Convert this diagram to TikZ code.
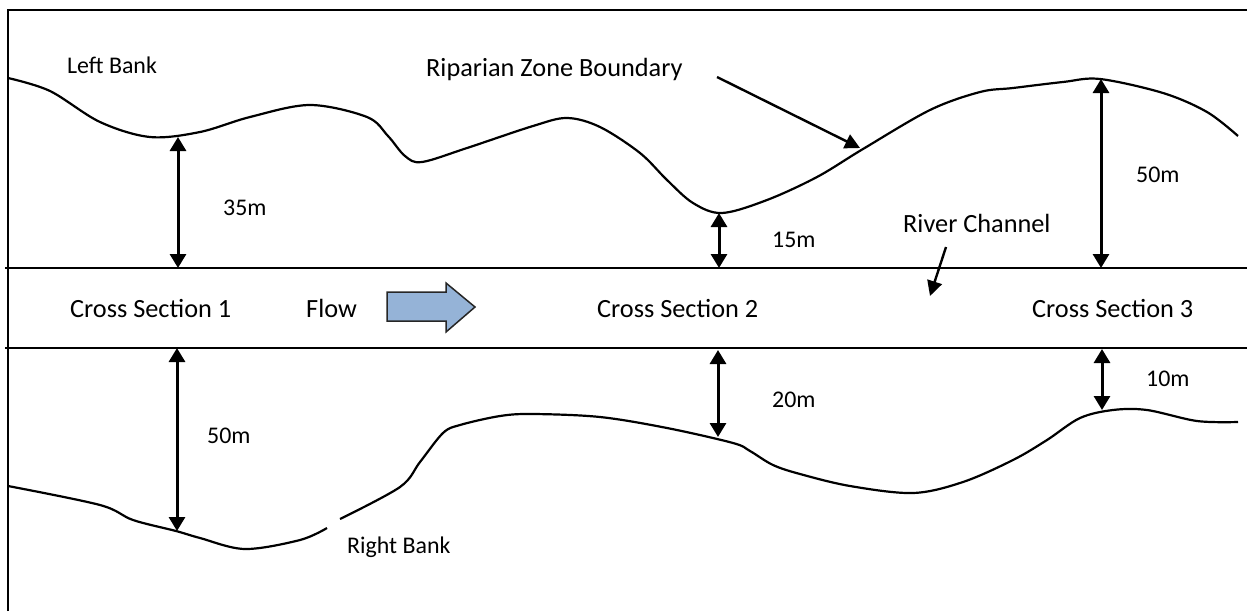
\documentclass[tikz,border=0pt]{standalone}
\usepackage{fontspec}
\setmainfont{Carlito}
\usetikzlibrary{arrows.meta}
\definecolor{flowblue}{HTML}{95B3D7}
\tikzset{
  big/.style={inner sep=0pt, anchor=base west, font=\fontsize{26.3}{30}\selectfont},
  small/.style={inner sep=0pt, anchor=base west, font=\fontsize{23.9}{28}\selectfont},
  curve/.style={line width=2.2pt, line join=round},
  frameline/.style={line width=2.4pt},
  chan/.style={line width=2.2pt},
  dimarrow/.style={line width=3pt, {Triangle[length=14pt,width=16pt]}-{Triangle[length=14pt,width=16pt]}},
  ptr/.style={line width=2.4pt, -{Triangle[length=15pt,width=15pt]}},
}
\begin{document}
\begin{tikzpicture}[x=1pt,y=-1pt]
\useasboundingbox (0,0) rectangle (1247,611);
% frame
\coordinate (fbl) at (8,611);
\coordinate (ftl) at (8,10);
\coordinate (ftr) at (1247,10);
\draw[frameline] (fbl) -- (ftl) -- (ftr);
% channel lines
\coordinate (c1l) at (5,268); \coordinate (c1r) at (1247,268);
\coordinate (c2l) at (5,348); \coordinate (c2r) at (1247,348);
\draw[chan] (c1l) -- (c1r);
\draw[chan] (c2l) -- (c2r);
% upper bank (riparian boundary)
\draw[curve] plot[smooth, tension=0.55] coordinates {
 (8,78) (50,91) (100,122) (150,137) (200,132) (250,117) (310,105) (367,117)
 (388,136) (405,156) (422,162) (467,148) (533,126) (567,118) (600,127)
 (640,153) (667,180) (693,203) (722,213) (767,200) (817,177) (863,149)
 (930,110) (980,92) (1013,88) (1063,82) (1100,79) (1163,93) (1207,112) (1238,136)};
% lower bank
\draw[curve] plot[smooth, tension=0.55] coordinates {
 (8,486) (100,505) (133,520) (176,531) (200,538) (245,549) (300,540) (327,528)};
\draw[curve] plot[smooth, tension=0.55] coordinates {
 (340,519) (400,487) (420,462) (443,433) (460,425) (500,416) (533,414)
 (600,417) (667,428) (733,443) (750,451) (773,465) (800,474) (850,486)
 (913,493) (963,482) (1013,460) (1047,440) (1080,418) (1113,410) (1147,410)
 (1197,421) (1238,422)};
% dimension arrows
\coordinate (d1a) at (178,137); \coordinate (d1b) at (178,268);
\coordinate (d2a) at (719,213); \coordinate (d2b) at (719,268);
\coordinate (d3a) at (1101,79); \coordinate (d3b) at (1101,268);
\coordinate (d4a) at (177,348); \coordinate (d4b) at (177,531);
\coordinate (d5a) at (718,350); \coordinate (d5b) at (718,437);
\coordinate (d6a) at (1102,349); \coordinate (d6b) at (1102,410);
\draw[dimarrow] (d1a) -- (d1b);
\draw[dimarrow] (d2a) -- (d2b);
\draw[dimarrow] (d3a) -- (d3b);
\draw[dimarrow] (d4a) -- (d4b);
\draw[dimarrow] (d5a) -- (d5b);
\draw[dimarrow] (d6a) -- (d6b);
% labels
\node[small] (lb) at (67,73) {Left Bank};
\node[big] (rzb) at (426,76) {Riparian Zone Boundary};
\node[small] (m35) at (223,215) {35m};
\node[small] (m15) at (772,247) {15m};
\node[big] (rc) at (903,232) {River Channel};
\node[small] (m50a) at (1136,182) {50m};
\node[big] (cs1) at (70,317) {Cross Section 1};
\node[big] (fl) at (306,317) {Flow};
\node[big] (cs2) at (597,317) {Cross Section 2};
\node[big] (cs3) at (1032,317) {Cross Section 3};
\node[small] (m50b) at (207,443) {50m};
\node[small] (m20) at (772,407) {20m};
\node[small] (m10) at (1146,386) {10m};
\node[small] (rb) at (347,553) {Right Bank};
% pointer arrows
\coordinate (p1s) at (717,77); \coordinate (p1e) at (860,148);
\draw[ptr] (p1s) -- (p1e);
\coordinate (p2s) at (946,247); \coordinate (p2e) at (930,296);
\draw[ptr] (p2s) -- (p2e);
% flow block arrow
\draw[fill=flowblue, draw=black!85, line width=1.5pt, line join=miter]
 (387,292) -- (446,292) -- (446,283) -- (475,307) -- (446,332) -- (446,321) -- (387,321) -- cycle;
\end{tikzpicture}
\end{document}
